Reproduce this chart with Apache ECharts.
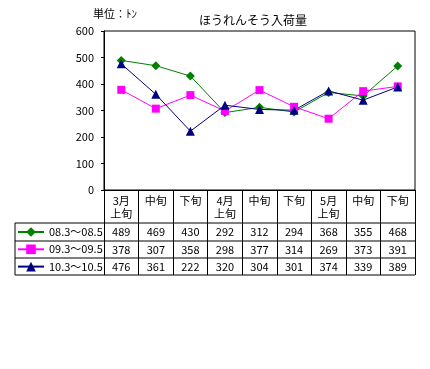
<!DOCTYPE html>
<html><head><meta charset="utf-8">
<script src="https://cdn.jsdelivr.net/npm/echarts@6/dist/echarts.min.js"></script>
<style>html,body{margin:0;padding:0;background:#fff}#c{width:430px;height:369px}</style>
</head><body><div id="c"></div>
<script>
const categories = ['3月\n上旬','中旬','下旬','4月\n上旬','中旬','下旬','5月\n上旬','中旬','下旬'];
const seriesNames = ['08.3～08.5','09.3～09.5','10.3～10.5'];
const s08 = [489,469,430,292,312,294,368,355,468];
const s09 = [378,307,358,298,377,314,269,373,391];
const s10 = [476,361,222,320,304,301,374,339,389];
const yTicks = [0,100,200,300,400,500,600];

const FONT = "'MS PGothic','Noto Sans CJK JP',sans-serif";
const L = 104, R = 415, T = 31, B = 190;
const chart = echarts.init(document.getElementById('c'));
const rowOff = [33, 51, 68];
const valueRows = [s08, s09, s10];
const colors = ['#008000','#FF00FF','#000080'];
const symbols = ['diamond','rect','triangle'];
const sizes = [9,8,9];

const xAxes = [{
  type:'category', data:categories, gridIndex:0, position:'bottom', boundaryGap:true,
  axisLine:{show:true,lineStyle:{color:'#000',width:1}},
  axisTick:{show:true,interval:0,length:85,lineStyle:{color:'#000'}},
  axisLabel:{interval:0,color:'#000',fontSize:11,fontFamily:FONT,lineHeight:13,margin:4}
}];
valueRows.forEach((row,i)=>{
  xAxes.push({
    type:'category', data:row.map(String), gridIndex:0, position:'bottom', offset:rowOff[i], boundaryGap:true,
    axisLine:{show:false}, axisTick:{show:false},
    axisLabel:{interval:0,color:'#000',fontSize:11,fontFamily:FONT,margin:3}
  });
});

const hLines = [223,241,258,275].map(y=>({type:'line',shape:{x1:15,y1:y,x2:R,y2:y},style:{stroke:'#000',lineWidth:1}}));

chart.setOption({
  animation:false,
  textStyle:{fontFamily:FONT},
  grid:{left:L,right:430-R,top:T,bottom:369-B,show:true,borderColor:'#000',borderWidth:1,containLabel:false},
  xAxis:xAxes,
  yAxis:{type:'value',min:0,max:600,interval:100,
    axisLine:{show:true,lineStyle:{color:'#000'}},
    axisTick:{show:true,length:3,lineStyle:{color:'#000'}},
    splitLine:{show:false},
    axisLabel:{color:'#000',fontSize:11,fontFamily:FONT,margin:10,
      formatter:v=>yTicks.includes(v)?String(v):''}},
  legend:{orient:'vertical',left:17,top:226,padding:0,itemWidth:26,itemHeight:12,itemGap:5.3,
    textStyle:{color:'#000',fontSize:11,fontFamily:FONT,lineHeight:12,height:12},
    data:seriesNames},
  series:[s08,s09,s10].map((d,i)=>({
    name:seriesNames[i],type:'line',data:d,xAxisIndex:0,
    symbol:symbols[i],symbolSize:sizes[i],showSymbol:true,
    lineStyle:{color:colors[i],width:1},itemStyle:{color:colors[i]}
  })),
  graphic:[
    ...hLines,
    {type:'line',shape:{x1:15,y1:223,x2:15,y2:275},style:{stroke:'#000',lineWidth:1}},
    {type:'text',left:93,top:8,style:{text:'単位：ﾄﾝ',fontSize:11,fontFamily:FONT,fill:'#000'}},
    {type:'text',left:199,top:14,style:{text:'ほうれんそう入荷量',fontSize:12,fontFamily:FONT,fill:'#000'}}
  ]
});
</script></body></html>
